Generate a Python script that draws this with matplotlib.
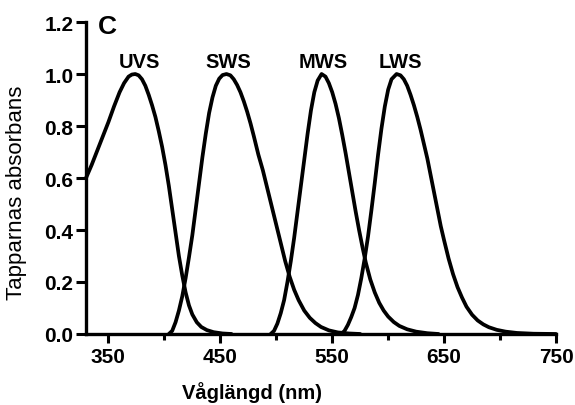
import matplotlib
matplotlib.use('Agg')
import matplotlib.pyplot as plt
from matplotlib.ticker import MultipleLocator

plt.rcParams['font.family'] = ['Liberation Sans', 'DejaVu Sans']

# absorbance curves (wavelength nm, relative absorbance)
uvs_nm = [330, 335, 340, 345, 350, 355, 360, 364, 368, 371, 374, 377, 380, 383, 386,
          389, 392, 395, 398, 401, 404, 407, 410, 413, 416, 419, 422, 425, 429, 433,
          438, 444, 452, 460]
uvs_abs = [0.60, 0.65, 0.705, 0.76, 0.815, 0.875, 0.93, 0.965, 0.99, 0.998, 1.0, 0.995,
           0.98, 0.955, 0.92, 0.88, 0.835, 0.78, 0.72, 0.65, 0.57, 0.48, 0.39, 0.30,
           0.225, 0.16, 0.11, 0.075, 0.045, 0.027, 0.015, 0.007, 0.002, 0.0]

sws_nm = [404, 407, 410, 413, 416, 419, 422, 425, 428, 431, 434, 437, 440, 443, 446,
          449, 452, 455.5, 459, 462, 465, 468, 471, 474, 477, 480, 484, 488, 492, 496,
          500, 504, 508, 512, 516, 520, 525, 530, 535, 540, 547, 555, 565, 575]
sws_abs = [0.0, 0.012, 0.045, 0.09, 0.145, 0.215, 0.295, 0.38, 0.48, 0.58, 0.68, 0.77,
           0.85, 0.91, 0.955, 0.982, 0.996, 1.0, 0.995, 0.98, 0.958, 0.93, 0.895, 0.855,
           0.81, 0.76, 0.69, 0.63, 0.56, 0.49, 0.42, 0.35, 0.28, 0.22, 0.17, 0.13,
           0.09, 0.062, 0.042, 0.027, 0.014, 0.006, 0.002, 0.0]

mws_nm = [495, 498, 501, 504, 507, 510, 513, 516, 519, 522, 525, 528, 531, 534, 537,
          540.5, 544, 547, 550, 553, 556, 559, 562, 565, 568, 571, 574, 577, 580, 584,
          588, 592, 596, 600, 605, 610, 617, 625, 635, 645]
mws_abs = [0.0, 0.012, 0.04, 0.08, 0.13, 0.20, 0.28, 0.37, 0.47, 0.57, 0.67, 0.77,
           0.86, 0.93, 0.975, 1.0, 0.99, 0.965, 0.93, 0.885, 0.83, 0.765, 0.695, 0.62,
           0.545, 0.47, 0.40, 0.335, 0.275, 0.21, 0.16, 0.12, 0.09, 0.067, 0.046,
           0.031, 0.018, 0.009, 0.003, 0.0]

lws_nm = [558, 561, 564, 567, 570, 573, 576, 579, 582, 585, 588, 591, 594, 597, 600,
          603, 607.5, 611, 614, 617, 620, 623, 626, 629, 632, 635, 638, 641, 644, 647,
          650, 654, 658, 662, 666, 670, 675, 680, 685, 690, 697, 705, 715, 730, 750]
lws_abs = [0.0, 0.012, 0.035, 0.065, 0.10, 0.15, 0.215, 0.29, 0.375, 0.475, 0.58,
           0.69, 0.79, 0.875, 0.94, 0.98, 1.0, 0.995, 0.98, 0.955, 0.92, 0.88, 0.835,
           0.785, 0.73, 0.675, 0.61, 0.545, 0.48, 0.415, 0.36, 0.29, 0.23, 0.18, 0.14,
           0.105, 0.074, 0.052, 0.037, 0.026, 0.016, 0.009, 0.004, 0.001, 0.0]

curve_names = ['UVS', 'SWS', 'MWS', 'LWS']
name_x = [378, 457, 542, 611]

fig = plt.figure(figsize=(5.75, 4.06), dpi=100)
ax = fig.add_axes([0.1496, 0.1749, 0.8174, 0.7684])

for xs, ys in [(uvs_nm, uvs_abs), (sws_nm, sws_abs), (mws_nm, mws_abs), (lws_nm, lws_abs)]:
    ax.plot(xs, ys, color='black', lw=2.7, solid_joinstyle='round',
            solid_capstyle='round', clip_on=False)

for name, xpos in zip(curve_names, name_x):
    ax.text(xpos, 1.05, name, ha='center', va='center', fontsize=14.5, fontweight='bold')

ax.text(341, 1.185, 'C', ha='left', va='center', fontsize=19, fontweight='bold')

ax.set_xlim(330, 750)
ax.set_ylim(0, 1.2)
ax.set_xticks([350, 450, 550, 650, 750])
ax.xaxis.set_minor_locator(MultipleLocator(50))
ax.set_yticks([0.0, 0.2, 0.4, 0.6, 0.8, 1.0, 1.2])
ax.set_yticklabels(['0.0', '0.2', '0.4', '0.6', '0.8', '1.0', '1.2'])

for s in ['top', 'right']:
    ax.spines[s].set_visible(False)
for s in ['left', 'bottom']:
    ax.spines[s].set_linewidth(2.4)

ax.tick_params(axis='both', which='major', direction='out', width=2.2, labelsize=15)
ax.tick_params(axis='y', which='major', length=7, pad=2)
ax.tick_params(axis='x', which='major', length=6.5, pad=3)
ax.tick_params(axis='x', which='minor', direction='out', width=2.2, length=4.5)
ax.tick_params(axis='y', which='minor', length=0)
for lbl in ax.get_xticklabels() + ax.get_yticklabels():
    lbl.set_fontweight('bold')

ax.set_xlabel('Våglängd (nm)', fontsize=14.5, fontweight='bold')
ax.xaxis.set_label_coords(0.3526, -0.15)
ax.set_ylabel('Tapparnas absorbans', fontsize=16)
ax.yaxis.set_label_coords(-0.125, 0.455)

fig.savefig('out.png', dpi=100)
